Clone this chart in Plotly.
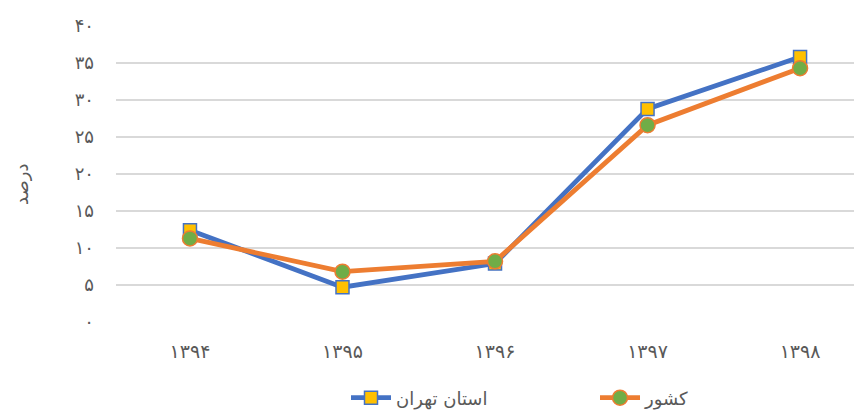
import plotly.graph_objects as go

years = ["۱۳۹۴", "۱۳۹۵", "۱۳۹۶", "۱۳۹۷", "۱۳۹۸"]
tehran = [12.4, 4.7, 7.9, 28.8, 35.8]
country = [11.3, 6.8, 8.2, 26.6, 34.3]
y_ticks = [0, 5, 10, 15, 20, 25, 30, 35, 40]
y_labels = ["۰", "۵", "۱۰", "۱۵", "۲۰", "۲۵", "۳۰", "۳۵", "۴۰"]
series_names = ["استان تهران", "کشور"]

xi = list(range(len(years)))
font_family = "DejaVu Sans, sans-serif"

# page body adds an 8px offset; lay out in page pixels minus that offset
OFF = 8
W, H = 862 - OFF, 410 - OFF
L, T = 116 - OFF, 26 - OFF
R = W - (860 - OFF)
B = H - (322 - OFF)
plot_w = W - L - R
plot_h = H - T - B

fig = go.Figure()
fig.add_trace(go.Scatter(
    x=xi, y=tehran, name=series_names[0], mode="lines+markers",
    line=dict(color="#4472C4", width=4.8),
    marker=dict(symbol="square", size=13, color="#FFC000",
                line=dict(color="#4472C4", width=1.5)),
))
fig.add_trace(go.Scatter(
    x=xi, y=country, name=series_names[1], mode="lines+markers",
    line=dict(color="#ED7D31", width=4.8),
    marker=dict(symbol="circle", size=15, color="#70AD47",
                line=dict(color="#ED7D31", width=1.5)),
))

fig.update_layout(
    width=W, height=H,
    margin=dict(l=L, r=R, t=T, b=B, autoexpand=False),
    paper_bgcolor="white", plot_bgcolor="white",
    font=dict(family=font_family, color="#595959", size=16),
    showlegend=True,
    legend=dict(orientation="h", x=(346 - 116) / plot_w, xanchor="left",
                y=-(398 - 322) / plot_h, yanchor="middle",
                font=dict(size=18, color="#595959"), itemwidth=40,
                traceorder="normal", entrywidth=194, entrywidthmode="pixels"),
    xaxis=dict(
        tickmode="array", tickvals=xi, ticktext=years, automargin=False,
        range=[-0.485, 4.393], showgrid=False, zeroline=False, showline=False,
        tickfont=dict(size=19, color="#595959"), ticks="", ticklabelstandoff=16,
    ),
    yaxis=dict(
        tickmode="array", tickvals=y_ticks, ticktext=y_labels, automargin=False,
        range=[0, 40], showgrid=True, gridcolor="#D9D9D9", gridwidth=1.5,
        zeroline=False, showline=False, ticks="",
        tickfont=dict(size=18, color="#595959"), ticklabelstandoff=21,
    ),
    annotations=[dict(
        text="درصد", textangle=-90,
        x=(21 - 116) / plot_w, xref="paper", y=(322 - 185) / plot_h, yref="paper",
        xanchor="center", yanchor="middle",
        showarrow=False, font=dict(size=18, color="#595959"),
    )],
)

fig.write_html("out.html")
